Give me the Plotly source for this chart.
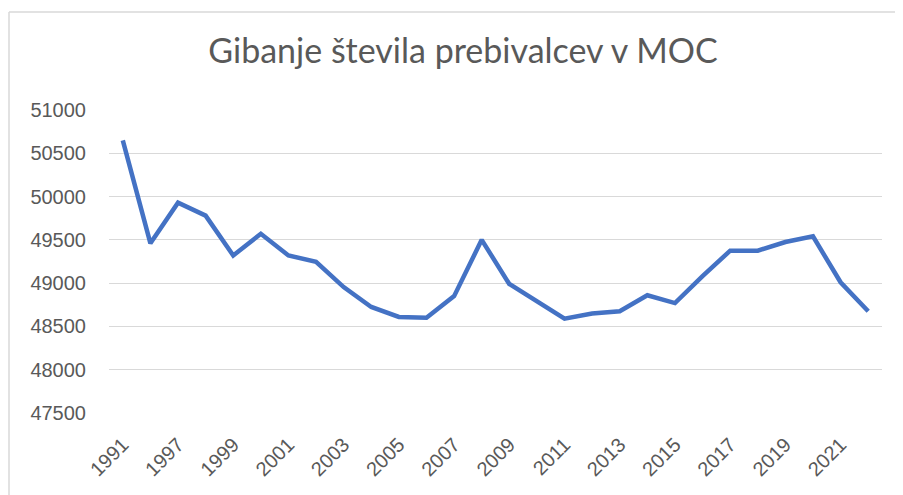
import plotly.graph_objects as go

years = ["1991", "1996", "1997", "1998", "1999", "2000", "2001", "2002", "2003", "2004",
         "2005", "2006", "2007", "2008", "2009", "2010", "2011", "2012", "2013", "2014",
         "2015", "2016", "2017", "2018", "2019", "2020", "2021", "2022"]
population = [50650, 49460, 49930, 49780, 49320, 49570, 49320, 49245, 48955, 48725,
              48610, 48600, 48850, 49500, 48990, 48785, 48590, 48650, 48675, 48860,
              48770, 49080, 49375, 49375, 49475, 49540, 49010, 48675]
y_ticks = [47500, 48000, 48500, 49000, 49500, 50000, 50500, 51000]
title_text = "Gibanje števila prebivalcev v MOC"

# page body has an 8px margin, so the figure is offset by 8px
W, H = 895, 487
L, R, T, B = 101, 21, 102, 82

fig = go.Figure()
fig.add_trace(go.Scatter(
    x=years, y=population, mode="lines",
    line=dict(color="#4472C4", width=4.5),
    hoverinfo="x+y", showlegend=False,
))

fig.update_layout(
    width=W, height=H,
    margin=dict(l=L, r=R, t=T, b=B),
    paper_bgcolor="white", plot_bgcolor="white",
    font=dict(family="Liberation Sans, Arial, sans-serif", color="#595959"),
    title=dict(text=title_text, x=455 / W, xanchor="center", y=1 - 43 / H, yanchor="middle",
               font=dict(size=34, color="#595959", family="Lato, sans-serif")),
    xaxis=dict(type="category", tickmode="array", tickvals=years[::2], ticktext=years[::2],
               range=[-0.5, len(years) - 0.5],
               tickangle=-45, showgrid=False, showline=False, ticks="",
               ticklabelstandoff=15,
               tickfont=dict(size=20, color="#595959")),
    yaxis=dict(range=[47500, 51000], tickmode="array", tickvals=y_ticks,
               ticktext=[str(v) for v in y_ticks], showgrid=True, gridcolor="#D9D9D9",
               gridwidth=1.4, zeroline=False, showline=False, ticks="",
               ticklabelstandoff=22,
               tickfont=dict(size=20, color="#595959")),
)

# chart border (top and left edges visible in the reference)
x0 = (1 - L) / (W - L - R)
y1 = 1 + (T - 4) / (H - T - B)
fig.add_shape(type="line", xref="paper", yref="paper", x0=x0, x1=1.2, y0=y1, y1=y1,
              line=dict(color="#D9D9D9", width=1.5))
fig.add_shape(type="line", xref="paper", yref="paper", x0=x0, x1=x0, y0=-0.5, y1=y1,
              line=dict(color="#D9D9D9", width=1.5))

fig.write_html("out.html")
